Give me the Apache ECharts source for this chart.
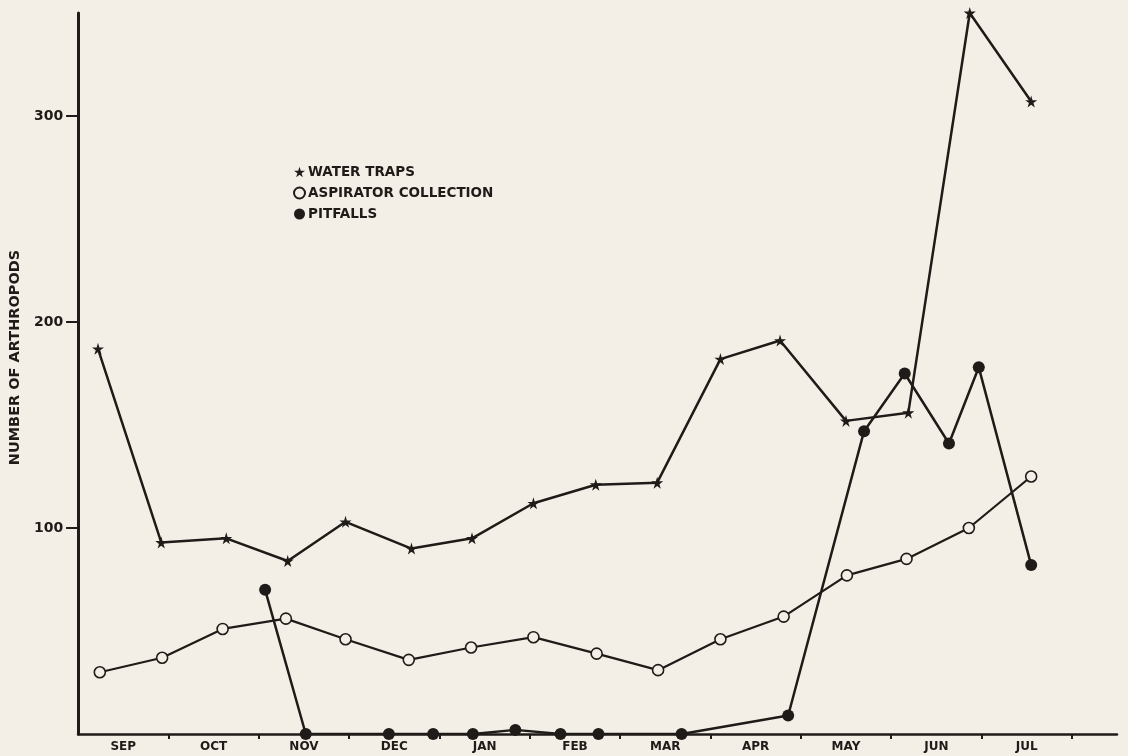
<!DOCTYPE html>
<html>
<head>
<meta charset="utf-8">
<script src="https://cdn.jsdelivr.net/npm/echarts@6/dist/echarts.min.js"></script>
<style>
html,body{margin:0;padding:0;background:#f4efe6;}
#chart{width:1128px;height:756px;}
</style>
</head>
<body>
<div id="chart"></div>
<script>
// Month labels (each label sits in the middle of its month)
const months = ['SEP','OCT','NOV','DEC','JAN','FEB','MAR','APR','MAY','JUN','JUL'];
const yTicks = [100, 200, 300];
// x values: position in months from the start of September
const waterTrapX = [0.22,0.92,1.64,2.32,2.96,3.69,4.36,5.04,5.73,6.41,7.11,7.77,8.50,9.19,9.87,10.55];
const waterTrapY = [187,93,95,84,103,90,95,112,121,122,182,191,152,156,350,307];
const aspiratorX = [0.24,0.93,1.60,2.30,2.96,3.66,4.35,5.04,5.74,6.42,7.11,7.81,8.51,9.17,9.86,10.55];
const aspiratorY = [30,37,51,56,46,36,42,47,39,31,46,57,77,85,100,125];
const pitfallX = [2.07,2.52,3.44,3.93,4.37,4.84,5.34,5.76,6.68,7.86,8.70,9.15,9.64,9.97,10.55];
const pitfallY = [70,0,0,0,0,2,0,0,0,9,147,175,141,178,82];

const ink = '#1e1b18';
const bg = '#f4efe6';
const font = 'DejaVu Sans';
const star = 'path://M50,0 L61,35 L98,35 L68,57 L79,91 L50,70 L21,91 L32,57 L2,35 L39,35 Z';

function pairs(xs, ys){ return xs.map((x,i)=>[x, ys[i]]); }

const chart = echarts.init(document.getElementById('chart'), null, {renderer:'canvas'});
chart.setOption({
  backgroundColor: bg,
  animation: false,
  grid: {left:77, right:11, top:13, bottom:22, containLabel:false},
  legend: {
    orient:'vertical', left:293, top:165, itemWidth:11, itemHeight:11, itemGap:7,
    padding:0,
    textStyle:{fontFamily:font, fontWeight:'bold', fontSize:13.5, color:ink, padding:[0,0,0,-2]},
    data:[
      {name:'WATER TRAPS', icon:star},
      {name:'ASPIRATOR COLLECTION', icon:'circle'},
      {name:'PITFALLS', icon:'circle'}
    ]
  },
  xAxis: {
    type:'value', min:0, max:11.5,
    axisLine:{show:true, onZero:false, lineStyle:{color:ink, width:2.5}},
    axisTick:{show:true, inside:false, length:5, lineStyle:{color:ink, width:2}, customValues: months.map((m,i)=>i+1)},
    axisLabel:{show:true, margin:7, fontFamily:font, fontWeight:'bold', fontSize:12, color:ink,
      customValues: months.map((m,i)=>i+0.5),
      formatter: v => months[Math.floor(v)] || ''},
    splitLine:{show:false}
  },
  yAxis: {
    type:'value', min:0, max:350,
    name:'NUMBER OF ARTHROPODS', nameLocation:'middle', nameRotate:90, nameGap:55,
    nameTextStyle:{fontFamily:font, fontWeight:'bold', fontSize:14.5, color:ink, padding:[0,0,0,32]},
    axisLine:{show:true, lineStyle:{color:ink, width:3}},
    axisTick:{show:true, inside:false, length:12, lineStyle:{color:ink, width:2}, customValues:yTicks},
    axisLabel:{show:true, margin:15, fontFamily:font, fontWeight:'bold', fontSize:14, color:ink, customValues:yTicks},
    splitLine:{show:false}
  },
  series: [
    {name:'WATER TRAPS', type:'line', data:pairs(waterTrapX, waterTrapY),
     symbol:star, symbolSize:12, showAllSymbol:true,
     lineStyle:{color:ink, width:2.5}, itemStyle:{color:ink}, z:3},
    {name:'ASPIRATOR COLLECTION', type:'line', data:pairs(aspiratorX, aspiratorY),
     symbol:'circle', symbolSize:11, showAllSymbol:true,
     lineStyle:{color:ink, width:2.2}, itemStyle:{color:bg, borderColor:ink, borderWidth:1.6}, z:4},
    {name:'PITFALLS', type:'line', data:pairs(pitfallX, pitfallY),
     symbol:'circle', symbolSize:12, showAllSymbol:true,
     lineStyle:{color:ink, width:2.5}, itemStyle:{color:ink}, z:5}
  ]
});
</script>
</body>
</html>
